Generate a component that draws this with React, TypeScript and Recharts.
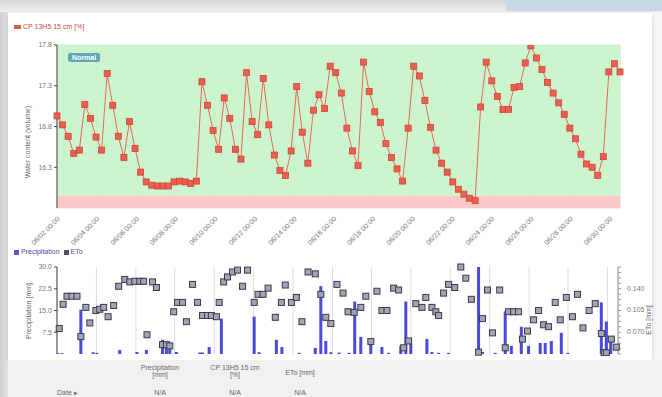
import React from "react";
import {
  ComposedChart,
  Line,
  Bar,
  Scatter,
  XAxis,
  YAxis,
  CartesianGrid,
  ReferenceArea,
} from "recharts";

// soil moisture, one reading per step
const MOISTURE = [
  16.93, 16.82, 16.68, 16.47, 16.51, 17.07, 16.9, 16.67, 16.51, 17.45,
  17.06, 16.68, 16.42, 16.86, 16.53, 16.24, 16.12, 16.08, 16.07, 16.07,
  16.07, 16.12, 16.13, 16.12, 16.1, 16.13, 17.35, 17.06, 16.75, 16.52,
  17.15, 16.9, 16.52, 16.4, 17.46, 16.86, 16.7, 17.39, 16.82, 16.45,
  16.26, 16.2, 16.5, 17.29, 16.73, 16.35, 17.0, 17.19, 17.02, 17.54,
  17.46, 17.21, 16.78, 16.5, 16.32, 17.59, 17.23, 16.98, 16.85, 16.59,
  16.42, 16.28, 16.13, 16.78, 17.54, 17.42, 17.12, 16.79, 16.51, 16.35,
  16.24, 16.12, 16.03, 15.97, 15.92, 15.89, 17.04, 17.59, 17.36, 17.17,
  17.01, 17.01, 17.28, 17.29, 17.58, 17.79, 17.64, 17.5, 17.34, 17.21,
  17.09, 16.95, 16.78, 16.65, 16.46, 16.34, 16.3, 16.2, 16.43, 17.47,
  17.57, 17.47,
];

const PRECIP_T = [
  0.2, 0.9, 4.3, 6.5, 7.2, 11.3, 14.4, 16.1, 19.0, 19.7, 20.3, 21.5, 25.7,
  26.2, 27.4, 29.6, 35.5, 36.4, 39.5, 40.5, 43.6, 46.5, 47.5, 48.4, 49.3,
  50.8, 52.6, 53.6, 54.7, 56.5, 58.5, 59.7, 61.9, 62.8, 63.7, 66.6, 67.5,
  68.7, 70.5, 75.9, 76.6, 78.9, 80.7, 81.8, 83.6, 84.9, 87.0, 87.9, 89.0,
  90.8, 92.0, 98.0, 98.9, 99.7,
];
const PRECIP_MM = [
  0.3, 0.3, 15.3, 0.6, 0.4, 1.4, 0.7, 1.4, 4.9, 3.5, 3.5, 0.7, 0.5, 0.5, 2.4,
  12.2, 12.9, 0.6, 4.9, 2.4, 0.4, 2.1, 23.4, 4.5, 0.6, 0.5, 0.4, 18.1, 5.9,
  4.2, 2.4, 0.4, 2.8, 18.1, 3.5, 5.2, 0.7, 0.4, 0.4, 30.0, 0.7, 0.4, 14.7,
  2.8, 9.4, 2.8, 3.8, 3.8, 4.5, 7.3, 0.4, 17.8, 11.2, 5.9,
];

const ETO_T = [
  0.4, 1.1, 1.8, 2.7, 3.6, 4.3, 5.2, 5.9, 7.0, 7.7, 8.4, 9.2, 10.2, 11.1,
  12.2, 13.1, 14.0, 14.9, 15.6, 16.2, 17.2, 17.9, 19.0, 19.7, 20.3, 21.0,
  21.7, 22.6, 23.3, 24.4, 25.3, 26.2, 27.1, 27.8, 28.7, 29.2, 30.0, 30.7,
  31.6, 32.5, 33.4, 34.3, 35.5, 36.2, 37.1, 38.0, 39.3, 40.4, 41.1, 42.2,
  43.1, 44.1, 45.2, 46.5, 47.5, 48.4, 49.3, 50.4, 51.5, 52.4, 53.5, 54.7,
  55.6, 56.5, 57.6, 58.5, 59.4, 60.6, 61.5, 62.4, 63.3, 64.6, 65.7, 66.4,
  67.5, 68.2, 68.7, 69.6, 70.5, 71.6, 72.7, 73.6, 74.6, 75.9, 76.6, 77.5,
  78.4, 79.7, 80.7, 81.3, 82.2, 83.1, 83.8, 84.7, 85.8, 86.7, 87.6, 88.5,
  89.7, 90.6, 91.7, 92.8, 93.7, 94.7, 95.8, 96.9, 98.0, 98.5, 98.9, 99.8,
  100.7,
];
const ETO_MM = [
  0.076, 0.115, 0.128, 0.128, 0.128, 0.063, 0.11, 0.085, 0.105, 0.107, 0.11,
  0.095, 0.113, 0.144, 0.155, 0.151, 0.152, 0.152, 0.152, 0.066, 0.151,
  0.142, 0.05, 0.05, 0.048, 0.103, 0.118, 0.118, 0.087, 0.147, 0.118, 0.097,
  0.097, 0.097, 0.095, 0.118, 0.151, 0.159, 0.167, 0.17, 0.144, 0.17, 0.118,
  0.131, 0.131, 0.141, 0.094, 0.118, 0.146, 0.118, 0.126, 0.087, 0.167,
  0.164, 0.131, 0.094, 0.084, 0.147, 0.133, 0.103, 0.102, 0.11, 0.128,
  0.055, 0.136, 0.105, 0.105, 0.141, 0.138, 0.045, 0.056, 0.116, 0.11,
  0.126, 0.11, 0.103, 0.097, 0.133, 0.147, 0.142, 0.175, 0.157, 0.123,
  0.038, 0.092, 0.138, 0.069, 0.138, 0.045, 0.103, 0.103, 0.103, 0.059,
  0.072, 0.09, 0.105, 0.082, 0.079, 0.118, 0.09, 0.126, 0.095, 0.131, 0.077,
  0.105, 0.116, 0.068, 0.037, 0.037, 0.059, 0.046,
];

const X_TICKS = [0, 7.1, 14.2, 21.2, 28.3, 35.4, 42.5, 49.6, 56.6, 63.7, 70.8, 77.9, 85, 92, 99.1];
const X_LABELS = [
  "06/02 00:00", "06/04 00:00", "06/06 00:00", "06/08 00:00", "06/10 00:00",
  "06/12 00:00", "06/14 00:00", "06/16 00:00", "06/18 00:00", "06/20 00:00",
  "06/22 00:00", "06/24 00:00", "06/26 00:00", "06/28 00:00", "06/30 00:00",
];
const MOIST_TICKS = [16.3, 16.8, 17.3, 17.8];
const PRECIP_TICKS = [7.5, 15, 22.5, 30];
const ETO_TICKS = [
  0.035, 0.04375, 0.0525, 0.06125, 0.07, 0.07875, 0.0875, 0.09625, 0.105,
  0.11375, 0.1225, 0.13125, 0.14, 0.14875, 0.1575, 0.16625, 0.175,
];
const ETO_LABELLED = [0.07, 0.105, 0.14];

const moistureRows = MOISTURE.map((v, i) => ({ t: i, moisture: v }));
const precipRows = PRECIP_T.map((t, i) => ({ t, mm: PRECIP_MM[i] }));
const etoRows = ETO_T.map((t, i) => ({ t, eto: ETO_MM[i] }));

const FONT = "'Liberation Sans', Arial, sans-serif";
const tickStyle = { fontSize: 7, fill: "#777", fontFamily: FONT };

const DateTick = (props: any) => {
  const { x, y, index } = props;
  return (
    <text
      x={x + 2}
      y={y + 2}
      transform={`rotate(-45 ${x + 2} ${y + 2})`}
      textAnchor="end"
      dominantBaseline="middle"
      fontSize={7}
      fill="#777"
      fontFamily={FONT}
    >
      {X_LABELS[index]}
    </text>
  );
};

const RedSquare = (props: any) => {
  const { cx, cy } = props;
  if (cx == null || cy == null) return null;
  return <rect x={cx - 3} y={cy - 3} width={6} height={6} fill="#ea5f50" stroke="#cf4436" strokeWidth={0.8} />;
};

const EtoSquare = (props: any) => {
  const { cx, cy } = props;
  if (cx == null || cy == null) return null;
  return <rect x={cx - 3} y={cy - 3} width={6} height={6} fill="#a4a4b4" stroke="#3a3a4c" strokeWidth={1} />;
};

// thin bar centred on its timestamp
const RainBar = (props: any) => {
  const { x, y, width, height } = props;
  if (x == null || height == null || height <= 0) return null;
  const cx = x + width / 2;
  return <rect x={cx - 1.5} y={y} width={3} height={height} fill="#3636d8" fillOpacity={0.9} />;
};

const EtoTick = (props: any) => {
  const { x, y, payload } = props;
  if (!ETO_LABELLED.includes(payload.value)) return null;
  return (
    <text x={x + 4} y={y} dominantBaseline="middle" fontSize={7} fill="#777" fontFamily={FONT}>
      {payload.value.toFixed(3)}
    </text>
  );
};

const small = { fontSize: 7, color: "#666", fontFamily: FONT, position: "absolute" as const, whiteSpace: "nowrap" as const };

export default function App() {
  return (
    <div style={{ position: "fixed", left: 0, top: 0, width: 662, height: 397, background: "#f6f6f6", overflow: "hidden", fontFamily: FONT }}>
      {/* page chrome */}
      <div style={{ position: "absolute", left: 0, top: 0, width: 662, height: 12, background: "linear-gradient(#d6d6d6, #eeeeee)" }} />
      <div style={{ position: "absolute", left: 506, top: 0, width: 156, height: 11, background: "#c9d8e7" }} />
      <div style={{ position: "absolute", left: 0, top: 12, width: 8, height: 385, background: "linear-gradient(90deg, #cfcfcf, #e4e4e4)" }} />
      <div style={{ position: "absolute", left: 8, top: 13, width: 644, height: 347, background: "#fff", boxShadow: "0 1px 4px rgba(0,0,0,0.15)" }} />
      <div style={{ position: "absolute", left: 8, top: 360, width: 654, height: 37, background: "#f1f1f1" }} />

      {/* top chart */}
      <div style={{ position: "absolute", left: 0, top: 0 }}>
        <ComposedChart width={662} height={250} data={moistureRows} margin={{ top: 45, right: 42, bottom: 0, left: 0 }}>
          <CartesianGrid stroke="#a9c9a9" strokeOpacity={0.5} />
          <ReferenceArea y1={15.95} y2={17.8} fill="#c4f3c4" fillOpacity={0.85} stroke="none" />
          <ReferenceArea y1={15.8} y2={15.95} fill="#f9c6c6" fillOpacity={0.95} stroke="none" />
          <XAxis
            type="number"
            dataKey="t"
            domain={[0, 101]}
            ticks={X_TICKS}
            interval={0}
            tick={<DateTick />}
            axisLine={false}
            tickLine={false}
            height={42}
          />
          <YAxis
            domain={[15.8, 17.8]}
            ticks={MOIST_TICKS}
            width={57}
            tick={tickStyle}
            tickSize={3}
            tickFormatter={(v: number) => v.toFixed(1)}
            axisLine={{ stroke: "#444" }}
            tickLine={{ stroke: "#444" }}
            allowDataOverflow
          />
          <Line
            dataKey="moisture"
            stroke="#e36a5c"
            strokeWidth={1}
            dot={<RedSquare />}
            isAnimationActive={false}
          />
        </ComposedChart>
      </div>
      <div style={{ ...small, left: 14, top: 23, color: "#d04a40" }}>
        <span style={{ display: "inline-block", width: 7, height: 4, background: "#e05a4c", marginRight: 2, verticalAlign: "middle" }} />
        CP 13H5 15 cm [%]
      </div>
      <div style={{ ...small, left: 68, top: 53, background: "#5fa8b8", color: "#fff", fontWeight: 700, padding: "1px 4px", borderRadius: 2 }}>
        Normal
      </div>
      <div style={{ ...small, left: 27, top: 142, transform: "translate(-50%, -50%) rotate(-90deg)" }}>
        Water content (volume)
      </div>

      {/* bottom chart */}
      <div style={{ position: "absolute", left: 0, top: 250 }}>
        <ComposedChart width={662} height={106} data={precipRows} margin={{ top: 17, right: 0, bottom: 2, left: 0 }}>
          <CartesianGrid stroke="#dddddd" horizontal={false} />
          <XAxis type="number" dataKey="t" domain={[0, 101]} ticks={X_TICKS} interval={0} hide />
          <YAxis
            yAxisId="p"
            domain={[0, 30]}
            ticks={PRECIP_TICKS}
            width={57}
            tick={tickStyle}
            tickSize={3}
            tickFormatter={(v: number) => v.toFixed(1)}
            axisLine={{ stroke: "#444" }}
            tickLine={{ stroke: "#444" }}
          />
          <YAxis
            yAxisId="e"
            orientation="right"
            domain={[0.035, 0.175]}
            ticks={ETO_TICKS}
            interval={0}
            width={44}
            tick={<EtoTick />}
            tickSize={3}
            axisLine={{ stroke: "#999" }}
            tickLine={{ stroke: "#999" }}
          />
          <Scatter yAxisId="e" data={etoRows} dataKey="eto" shape={<EtoSquare />} isAnimationActive={false} />
          <Bar yAxisId="p" dataKey="mm" barSize={3} fill="#3636d8" shape={<RainBar />} isAnimationActive={false} />
        </ComposedChart>
      </div>
      <div style={{ ...small, left: 14, top: 248, color: "#4a4aa8" }}>
        <span style={{ display: "inline-block", width: 5, height: 5, background: "#5a5ad8", marginRight: 2, verticalAlign: "middle" }} />
        Precipitation
        <span style={{ display: "inline-block", width: 5, height: 5, background: "#555", margin: "0 2px 0 4px", verticalAlign: "middle" }} />
        ETo
      </div>
      <div style={{ ...small, left: 28, top: 311, transform: "translate(-50%, -50%) rotate(-90deg)" }}>
        Precipitation [mm]
      </div>
      <div style={{ ...small, left: 648, top: 320, transform: "translate(-50%, -50%) rotate(-90deg)" }}>
        ETo [mm]
      </div>

      {/* data table */}
      <div style={{ ...small, left: 160, top: 364, textAlign: "center", transform: "translateX(-50%)" }}>
        Precipitation
        <br />
        [mm]
      </div>
      <div style={{ ...small, left: 235, top: 364, textAlign: "center", transform: "translateX(-50%)" }}>
        CP 13H5 15 cm
        <br />
        [%]
      </div>
      <div style={{ ...small, left: 300, top: 369, transform: "translateX(-50%)" }}>ETo [mm]</div>
      <div style={{ ...small, left: 57, top: 389 }}>Date ▸</div>
      <div style={{ ...small, left: 160, top: 389, transform: "translateX(-50%)" }}>N/A</div>
      <div style={{ ...small, left: 235, top: 389, transform: "translateX(-50%)" }}>N/A</div>
      <div style={{ ...small, left: 300, top: 389, transform: "translateX(-50%)" }}>N/A</div>
    </div>
  );
}
